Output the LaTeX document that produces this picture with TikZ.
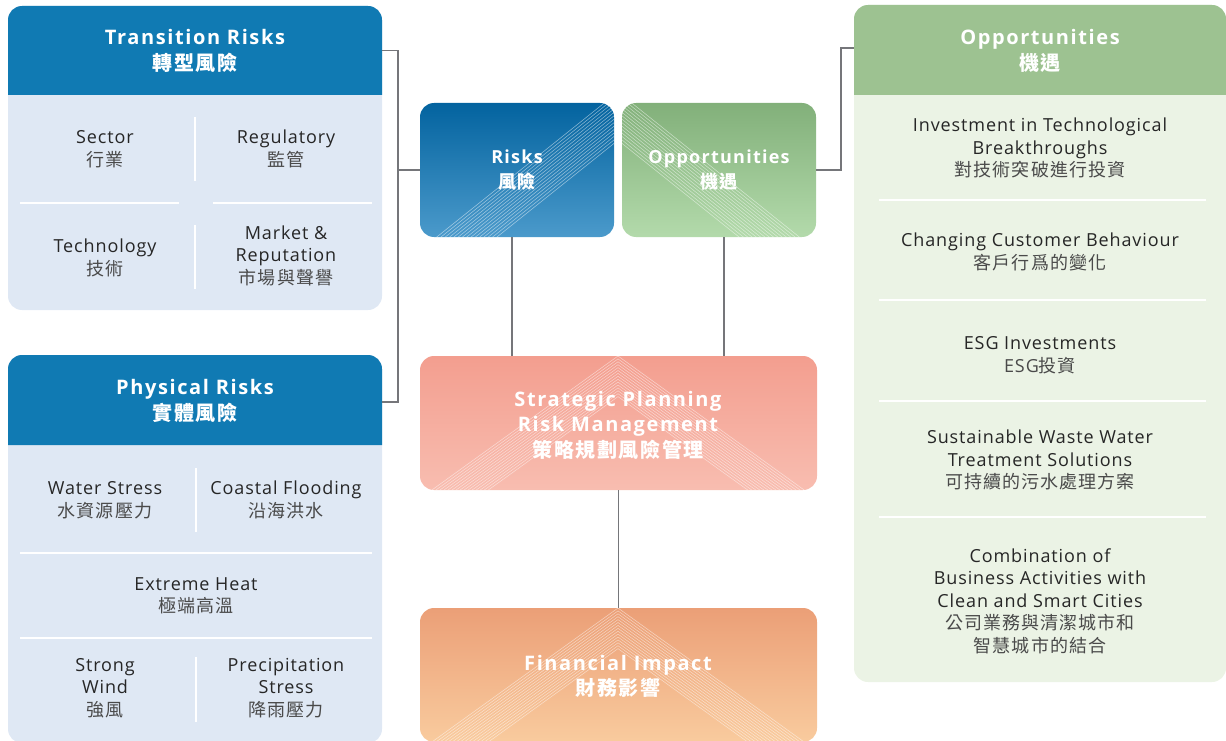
\documentclass[tikz,border=0pt]{standalone}
\usepackage{fontspec}
\setmainfont{Open Sans}[LetterSpace=5]
\newfontfamily\cjk{Noto Sans CJK TC}[LetterSpace=6]
\usetikzlibrary{calc}
\definecolor{hdrblue}{HTML}{107AB3}
\definecolor{bodyblue}{HTML}{DFE8F4}
\definecolor{hdrgreen}{HTML}{9DC291}
\definecolor{bodygreen}{HTML}{EBF3E5}
\definecolor{riskTop}{HTML}{03639F}
\definecolor{riskBot}{HTML}{4B9ACB}
\definecolor{oppTop}{HTML}{82B07A}
\definecolor{oppBot}{HTML}{B3DAAB}
\definecolor{stratTop}{HTML}{F39E8F}
\definecolor{stratBot}{HTML}{F8BDB0}
\definecolor{finTop}{HTML}{EB9F77}
\definecolor{finBot}{HTML}{F9CB9E}
\definecolor{conn}{HTML}{75767A}
\definecolor{txtdark}{HTML}{262626}
\definecolor{txtcjk}{HTML}{4A4A4A}
\newcommand{\ZH}[1]{{\cjk\color{txtcjk}#1}}
\newcommand{\ZB}[1]{{\cjk\bfseries\addfontfeatures{LetterSpace=8}#1}}
\tikzset{
  x=1pt, y=-1pt,
  body/.style={txtdark, align=center, inner sep=0pt, font=\fontsize{18}{22.5}\selectfont},
  title/.style={white, align=center, inner sep=0pt, font=\bfseries\fontsize{20}{25.5}\selectfont\addfontfeatures{LetterSpace=8}},
  ctitle/.style={white, align=center, inner sep=0pt, font=\bfseries\fontsize{18}{24.5}\selectfont\addfontfeatures{LetterSpace=7}},
  divider/.style={white, line width=2pt},
  connector/.style={conn, line width=1.1pt},
  hatch/.style={white, opacity=0.5, line width=0.55pt},
  cbox/.style={rectangle, rounded corners=14pt, inner sep=0pt, draw=none},
  panel/.style={rectangle, rounded corners=14pt, inner sep=0pt, draw=none},
}
\begin{document}
\begin{tikzpicture}
\useasboundingbox (0,0) rectangle (1226,741);

% ---------- Transition Risks panel ----------
\node[panel, fill=bodyblue, minimum width=374pt, minimum height=304pt] (trans) at (195,158) {};
\fill[hdrblue] (8,95) [rounded corners=14pt] -- (8,6) -- (382,6) [sharp corners] -- (382,95) -- cycle;
\node[inner sep=0pt, minimum width=374pt, minimum height=89pt] (transhdr) at (195,50.5) {};
\node[title] (transtitle) at (195,51) {Transition Risks\\\ZB{轉型風險}};
\draw[divider] (195,117) -- (195,181);
\draw[divider] (195,225) -- (195,289);
\draw[divider] (20,203) -- (179,203);
\draw[divider] (213,203) -- (372,203);
\node[body] (sector) at (105,149) {Sector\\\ZH{行業}};
\node[body] (regul) at (286,149) {Regulatory\\\ZH{監管}};
\node[body] (techn) at (105,258) {Technology\\\ZH{技術}};
\node[body] (market) at (286,255.5) {Market \&\\Reputation\\\ZH{市場與聲譽}};

% ---------- Physical Risks panel ----------
\node[panel, fill=bodyblue, minimum width=374pt, minimum height=388pt] (phys) at (195,549) {};
\fill[hdrblue] (8,445) [rounded corners=14pt] -- (8,355) -- (382,355) [sharp corners] -- (382,445) -- cycle;
\node[inner sep=0pt, minimum width=374pt, minimum height=90pt] (physhdr) at (195,402) {};
\node[title] (phystitle) at (195,401) {Physical Risks\\\ZB{實體風險}};
\draw[divider] (196,468) -- (196,532);
\draw[divider] (20,553) -- (372,553);
\draw[divider] (20,638) -- (372,638);
\draw[divider] (196,657) -- (196,722);
\node[body] (water) at (105,500) {Water Stress\\\ZH{水資源壓力}};
\node[body] (coast) at (286,500) {Coastal Flooding\\\ZH{沿海洪水}};
\node[body] (heat) at (196,596) {Extreme Heat\\\ZH{極端高溫}};
\node[body] (wind) at (105,688) {Strong\\Wind\\\ZH{強風}};
\node[body] (precip) at (286,688) {Precipitation\\Stress\\\ZH{降雨壓力}};

% ---------- Opportunities panel ----------
\node[panel, fill=bodygreen, minimum width=372pt, minimum height=677pt] (opppanel) at (1040,343.5) {};
\fill[hdrgreen] (854,95) [rounded corners=14pt] -- (854,5) -- (1226,5) [sharp corners] -- (1226,95) -- cycle;
\node[inner sep=0pt, minimum width=372pt, minimum height=90pt] (opphdr) at (1040,48) {};
\node[title] (opptitle) at (1040,51) {Opportunities\\\ZB{機遇}};
\draw[divider] (879,200) -- (1206,200);
\draw[divider] (879,300) -- (1206,300);
\draw[divider] (879,401) -- (1206,401);
\draw[divider] (879,517) -- (1206,517);
\node[body] (o1) at (1040,148) {Investment in Technological\\Breakthroughs\\\ZH{對技術突破進行投資}};
\node[body] (o2) at (1040,252) {Changing Customer Behaviour\\\ZH{客戶行爲的變化}};
\node[body] (o3) at (1040,355) {ESG Investments\\{\color{txtcjk}ESG}\ZH{投資}};
\node[body] (o4) at (1040,460) {Sustainable Waste Water\\Treatment Solutions\\\ZH{可持續的污水處理方案}};
\node[body] (o5) at (1040,601) {Combination of\\Business Activities with\\Clean and Smart Cities\\\ZH{公司業務與清潔城市和}\\\ZH{智慧城市的結合}};

% ---------- Centre boxes ----------
\node[cbox, top color=riskTop, bottom color=riskBot, minimum width=194pt, minimum height=134pt] (risks) at (517,170) {};
\begin{scope}
  \clip[rounded corners=14pt] (risks.south west) rectangle (risks.north east);
  \foreach \i in {0,...,14} {\draw[hatch] (433+4.3*\i,240) -- (633+4.3*\i,80);}
\end{scope}
\node[ctitle] (riskstxt) at (517,170) {Risks\\\ZB{風險}};

\node[cbox, top color=oppTop, bottom color=oppBot, minimum width=194pt, minimum height=134pt] (opps) at (719,170) {};
\begin{scope}
  \clip[rounded corners=14pt] (opps.south west) rectangle (opps.north east);
  \foreach \i in {0,...,14} {\draw[hatch] (803-4.3*\i,240) -- (603-4.3*\i,80);}
\end{scope}
\node[ctitle] (oppstxt) at (719,170) {Opportunities\\\ZB{機遇}};

\node[cbox, top color=stratTop, bottom color=stratBot, minimum width=397pt, minimum height=134pt] (strat) at (618.5,423) {};
\begin{scope}
  \clip[rounded corners=14pt] (strat.south west) rectangle (strat.north east);
  \foreach \i in {0,...,14} {\draw[hatch] (368,356+2.9*\i+180) -- (618,356+2.9*\i) -- (868,356+2.9*\i+180);}
\end{scope}
\node[title] (strattxt) at (618,425) {Strategic Planning\\Risk Management\\\ZB{策略規劃風險管理}};

\node[cbox, top color=finTop, bottom color=finBot, minimum width=397pt, minimum height=134pt] (fin) at (618.5,675) {};
\begin{scope}
  \clip[rounded corners=14pt] (fin.south west) rectangle (fin.north east);
  \foreach \i in {0,...,14} {\draw[hatch] (368,608+2.9*\i+180) -- (618,608+2.9*\i) -- (868,608+2.9*\i+180);}
\end{scope}
\node[title] (fintxt) at (618,676.5) {Financial Impact\\\ZB{財務影響}};

% ---------- Connectors ----------
\coordinate (jL) at (398,170);
\coordinate (jR) at (841,170);
\draw[connector] (transhdr.east) -| (jL) |- (physhdr.east);
\draw[connector] (jL) -- (risks.west);
\draw[connector] (opps.east) -| (jR) |- (opphdr.west);
\draw[connector] ([xshift=-5pt]risks.south) -- ([xshift=-5pt]risks.south |- strat.north);
\draw[connector] ([xshift=5pt]opps.south) -- ([xshift=5pt]opps.south |- strat.north);
\draw[connector] (strat.south) -- (fin.north);
\end{tikzpicture}
\end{document}
